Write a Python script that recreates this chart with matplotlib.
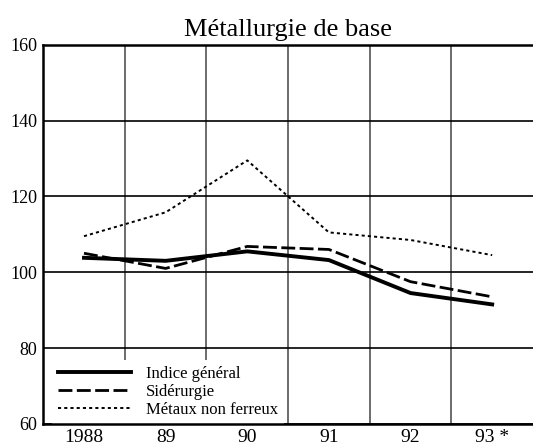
import matplotlib.pyplot as plt
from matplotlib.lines import Line2D

plt.rcParams['font.family'] = ['Liberation Serif', 'DejaVu Serif']

# Data
years = ["1988", "89", "90", "91", "92", "93 *"]
indice_general = [103.8, 103.0, 105.5, 103.2, 94.5, 91.5]
siderurgie = [105.0, 101.0, 106.8, 106.0, 97.5, 93.5]
metaux_non_ferreux = [109.5, 115.8, 129.5, 110.5, 108.5, 104.5]

x = list(range(len(years)))

fig = plt.figure(figsize=(5.33, 4.48), dpi=100)
ax = fig.add_axes([0.081, 0.054, 0.919, 0.846])

ax.plot(x, indice_general, color='black', lw=2.8, solid_joinstyle='round', zorder=4)
ax.plot(x, siderurgie, color='black', lw=2.0, dashes=(5, 1.6), zorder=4)
ax.plot(x, metaux_non_ferreux, color='black', lw=1.4, dashes=(1.6, 1.6), zorder=4)

ax.set_xlim(-0.5, 5.5)
ax.set_ylim(60, 160)
ax.set_yticks([60, 80, 100, 120, 140, 160])
ax.set_xticks(x)
ax.set_xticklabels(years, fontsize=14)
ax.set_xticks([i + 0.5 for i in x[:-1]], minor=True)
ax.tick_params(axis='both', which='both', length=0)
ax.tick_params(axis='y', labelsize=13, pad=4)
ax.tick_params(axis='x', pad=4)

# grid
ax.grid(axis='y', which='major', color='black', lw=1.2)
ax.grid(axis='x', which='minor', color='#444444', lw=1.1)
ax.set_axisbelow(True)

for side in ['left', 'bottom', 'top']:
    ax.spines[side].set_linewidth(1.8)
    ax.spines[side].set_zorder(6)
ax.spines['right'].set_visible(False)

ax.set_title("Métallurgie de base", fontsize=19, pad=6)

handles = [
    Line2D([], [], color='black', lw=2.8),
    Line2D([], [], color='black', lw=2.0, dashes=(5, 1.6)),
    Line2D([], [], color='black', lw=1.4, dashes=(1.6, 1.6)),
]
labels = ["Indice général", "Sidérurgie", "Métaux non ferreux"]
leg = ax.legend(handles, labels, loc='lower left', bbox_to_anchor=(0.006, -0.016),
                frameon=True, fancybox=False, framealpha=1, facecolor='white',
                edgecolor='none', fontsize=12, handlelength=4.4, handletextpad=0.9,
                labelspacing=0.12, borderpad=0.35, borderaxespad=0.35)
leg.set_zorder(5)

fig.savefig("out.png", dpi=100)
